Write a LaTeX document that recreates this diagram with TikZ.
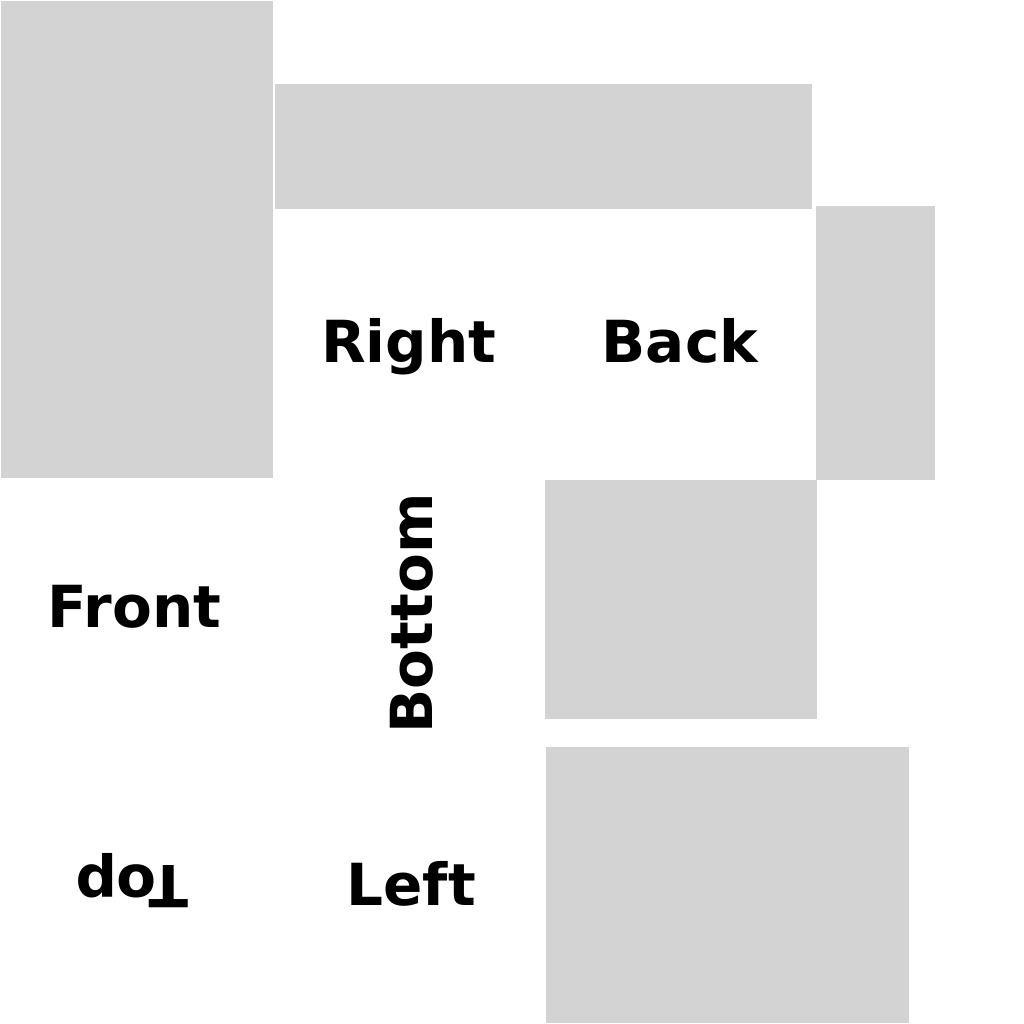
\documentclass[tikz,border=0pt]{standalone}
\usepackage{fontspec}
\setmainfont{DejaVu Sans}
\definecolor{panel}{HTML}{D3D3D3}
\tikzset{
  panelbox/.style={fill=panel, draw=none},
  lbl/.style={font=\bfseries\fontsize{58}{58}\selectfont, inner sep=0pt, anchor=base west}
}
\begin{document}
\begin{tikzpicture}[x=1pt,y=-1pt]
\useasboundingbox (0,0) rectangle (1024,1024);
\fill[white] (0,0) rectangle (1024,1024);
\path[panelbox] (1,1) rectangle (273,478);
\path[panelbox] (275,84) rectangle (812,209);
\path[panelbox] (816,206) rectangle (935,480);
\path[panelbox] (545,480) rectangle (817,719);
\path[panelbox] (546,747) rectangle (909,1023);
\node[lbl] (right) at (320.8,362.7) {Right};
\node[lbl] (back) at (601.5,362.7) {Back};
\node[lbl] (front) at (47.5,627.3) {Front};
\node[lbl, rotate=90] (bottom) at (432.7,733.5) {Bottom};
\node[lbl, rotate=180] (top) at (189,865.3) {Top};
\node[lbl] (left) at (346.5,905.7) {Left};
\end{tikzpicture}
\end{document}
